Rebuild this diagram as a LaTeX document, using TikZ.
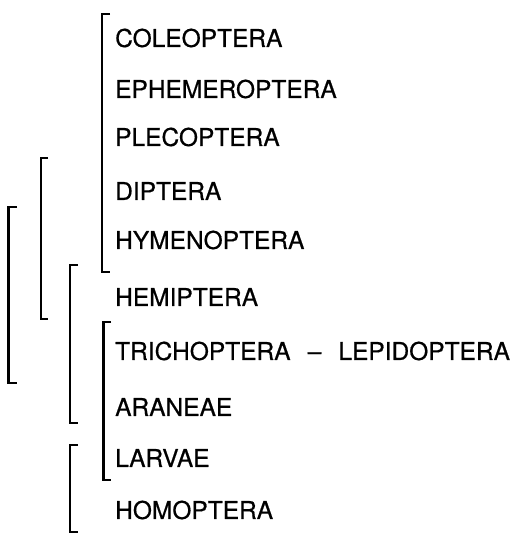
\documentclass[tikz,border=0pt]{standalone}
\usepackage{fontspec}
\setmainfont{TeX Gyre Heros}
\newfontfamily\taxfont{TeX Gyre Heros}[Ligatures=TeX, FakeBold=0.6]
\usepackage{tikz}

\begin{document}
\begin{tikzpicture}[
    x=1pt, y=-1pt,
    taxon/.style={anchor=west, inner sep=0pt, font=\taxfont\fontsize{24.5}{28}\selectfont},
    brk/.style={line width=2.6pt},
]
\useasboundingbox (0,0) rectangle (512,536);

% === TAXA ===
\node[taxon] (coleo)  at (115,38)  {COLEOPTERA};
\node[taxon] (ephem)  at (115,89)  {EPHEMEROPTERA};
\node[taxon] (pleco)  at (115,137) {PLECOPTERA};
\node[taxon] (dipt)   at (115,191) {DIPTERA};
\node[taxon] (hymen)  at (115,240) {HYMENOPTERA};
\node[taxon] (hemip)  at (115,297) {HEMIPTERA};
\node[taxon] (trich)  at (115,351) {TRICHOPTERA\hspace{0.7em}--\hspace{0.7em}LEPIDOPTERA};
\node[taxon] (aran)   at (115,407) {ARANEAE};
\node[taxon] (larv)   at (115,458) {LARVAE};
\node[taxon] (homop)  at (115,510) {HOMOPTERA};

% === BRACKETS ===
\draw[brk] (110,14)  -| (102,272) -- (110,272);
\draw[brk] (111,322) -| (103.5,480) -- (111,480);
\draw[brk] (48,158)  -| (41,319) -- (48,319);
\draw[brk] (78,265)  -| (70,423) -- (78,423);
\draw[brk] (78,445)  -| (70,532) -- (78,532);
\draw[brk] (17,207)  -| (8.5,383) -- (17,383);

\end{tikzpicture}
\end{document}
